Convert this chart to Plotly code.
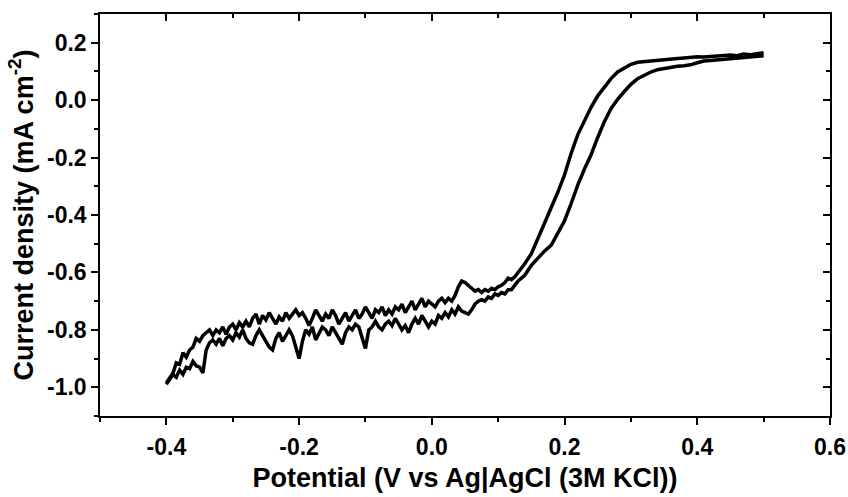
import plotly.graph_objects as go

# ---------------- data ----------------
fwd_E = [-0.400, -0.395, -0.390, -0.385, -0.380, -0.375, -0.370, -0.365, -0.360, -0.355,
         -0.350, -0.345, -0.340, -0.335, -0.330, -0.325, -0.320, -0.315, -0.310, -0.305,
         -0.300, -0.295, -0.290, -0.285, -0.280, -0.275, -0.270, -0.265, -0.260, -0.255,
         -0.250, -0.245, -0.240, -0.235, -0.230, -0.225, -0.220, -0.215, -0.210, -0.205,
         -0.200, -0.195, -0.190, -0.185, -0.180, -0.175, -0.170, -0.165, -0.160, -0.155,
         -0.150, -0.145, -0.140, -0.135, -0.130, -0.125, -0.120, -0.115, -0.110, -0.105,
         -0.100, -0.095, -0.090, -0.085, -0.080, -0.075, -0.070, -0.065, -0.060, -0.055,
         -0.050, -0.045, -0.040, -0.035, -0.030, -0.025, -0.020, -0.015, -0.010, -0.005,
         0.000, 0.005, 0.010, 0.015, 0.020, 0.025, 0.030, 0.035, 0.040, 0.045,
         0.050, 0.055, 0.060, 0.065, 0.070, 0.075, 0.080, 0.085, 0.090, 0.095,
         0.100, 0.105, 0.110, 0.115, 0.120, 0.125, 0.130, 0.140, 0.150, 0.160,
         0.170, 0.180, 0.190, 0.200, 0.210, 0.220, 0.230, 0.240, 0.250, 0.260,
         0.270, 0.280, 0.290, 0.300, 0.310, 0.320, 0.330, 0.340, 0.350, 0.360,
         0.370, 0.380, 0.390, 0.400, 0.410, 0.420, 0.430, 0.440, 0.450, 0.460,
         0.470, 0.480, 0.490, 0.500]
fwd_j = [-0.990, -0.970, -0.955, -0.965, -0.940, -0.955, -0.930, -0.935, -0.910, -0.925,
         -0.930, -0.950, -0.870, -0.845, -0.835, -0.850, -0.830, -0.855, -0.830, -0.820,
         -0.835, -0.810, -0.825, -0.800, -0.830, -0.845, -0.850, -0.820, -0.800, -0.820,
         -0.840, -0.860, -0.870, -0.830, -0.810, -0.840, -0.820, -0.800, -0.820, -0.860,
         -0.900, -0.840, -0.800, -0.815, -0.790, -0.835, -0.810, -0.790, -0.800, -0.820,
         -0.790, -0.810, -0.830, -0.850, -0.810, -0.790, -0.800, -0.780, -0.790, -0.830,
         -0.865, -0.800, -0.790, -0.770, -0.790, -0.800, -0.780, -0.770, -0.785, -0.760,
         -0.780, -0.800, -0.785, -0.810, -0.780, -0.760, -0.780, -0.750, -0.770, -0.790,
         -0.770, -0.780, -0.750, -0.760, -0.740, -0.755, -0.730, -0.745, -0.720, -0.735,
         -0.740, -0.745, -0.730, -0.710, -0.700, -0.695, -0.700, -0.685, -0.690, -0.675,
         -0.680, -0.670, -0.675, -0.660, -0.660, -0.645, -0.630, -0.610, -0.575, -0.550,
         -0.525, -0.505, -0.465, -0.420, -0.360, -0.295, -0.240, -0.190, -0.130, -0.075,
         -0.030, 0.003, 0.030, 0.055, 0.075, 0.088, 0.098, 0.106, 0.111, 0.115,
         0.118, 0.120, 0.123, 0.130, 0.136, 0.138, 0.140, 0.141, 0.143, 0.145,
         0.147, 0.149, 0.151, 0.155]

rev_E = [0.500, 0.490, 0.480, 0.470, 0.460, 0.450, 0.440, 0.430, 0.420, 0.410,
         0.400, 0.390, 0.380, 0.370, 0.360, 0.350, 0.340, 0.330, 0.320, 0.310,
         0.300, 0.290, 0.280, 0.270, 0.260, 0.250, 0.240, 0.230, 0.220, 0.210,
         0.200, 0.190, 0.180, 0.170, 0.160, 0.150, 0.140, 0.130, 0.125, 0.120,
         0.115, 0.110, 0.105, 0.100, 0.095, 0.090, 0.085, 0.080, 0.075, 0.070,
         0.065, 0.060, 0.055, 0.050, 0.045, 0.040, 0.035, 0.030, 0.025, 0.020,
         0.015, 0.010, 0.005, 0.000, -0.005, -0.010, -0.015, -0.020, -0.025, -0.030,
         -0.035, -0.040, -0.045, -0.050, -0.055, -0.060, -0.065, -0.070, -0.075, -0.080,
         -0.085, -0.090, -0.095, -0.100, -0.105, -0.110, -0.115, -0.120, -0.125, -0.130,
         -0.135, -0.140, -0.145, -0.150, -0.155, -0.160, -0.165, -0.170, -0.175, -0.180,
         -0.185, -0.190, -0.195, -0.200, -0.205, -0.210, -0.215, -0.220, -0.225, -0.230,
         -0.235, -0.240, -0.245, -0.250, -0.255, -0.260, -0.265, -0.270, -0.275, -0.280,
         -0.285, -0.290, -0.295, -0.300, -0.305, -0.310, -0.315, -0.320, -0.325, -0.330,
         -0.335, -0.340, -0.345, -0.350, -0.355, -0.360, -0.365, -0.370, -0.375, -0.380,
         -0.385, -0.390, -0.395, -0.400]
rev_j = [0.165, 0.160, 0.158, 0.161, 0.155, 0.157, 0.155, 0.152, 0.153, 0.150,
         0.151, 0.148, 0.147, 0.145, 0.143, 0.141, 0.139, 0.137, 0.135, 0.132,
         0.125, 0.113, 0.098, 0.075, 0.045, 0.015, -0.025, -0.070, -0.120, -0.185,
         -0.260, -0.320, -0.375, -0.430, -0.485, -0.535, -0.570, -0.600, -0.615, -0.625,
         -0.620, -0.635, -0.645, -0.650, -0.660, -0.655, -0.665, -0.660, -0.670, -0.660,
         -0.665, -0.655, -0.645, -0.635, -0.630, -0.650, -0.680, -0.700, -0.690, -0.705,
         -0.690, -0.700, -0.720, -0.710, -0.700, -0.720, -0.690, -0.710, -0.730, -0.700,
         -0.720, -0.740, -0.710, -0.730, -0.720, -0.745, -0.730, -0.750, -0.720, -0.740,
         -0.730, -0.760, -0.740, -0.720, -0.745, -0.760, -0.730, -0.750, -0.770, -0.740,
         -0.760, -0.780, -0.750, -0.730, -0.760, -0.745, -0.770, -0.750, -0.730, -0.760,
         -0.785, -0.760, -0.740, -0.750, -0.730, -0.745, -0.760, -0.740, -0.770, -0.755,
         -0.780, -0.760, -0.740, -0.765, -0.750, -0.780, -0.745, -0.760, -0.790, -0.770,
         -0.790, -0.775, -0.800, -0.780, -0.790, -0.815, -0.790, -0.810, -0.800, -0.820,
         -0.800, -0.810, -0.820, -0.840, -0.830, -0.860, -0.870, -0.895, -0.880, -0.920,
         -0.915, -0.950, -0.965, -0.985]

x_major = [-0.4, -0.2, 0.0, 0.2, 0.4, 0.6]
x_major_text = ["-0.4", "-0.2", "0.0", "0.2", "0.4", "0.6"]
x_minor = [-0.5, -0.3, -0.1, 0.1, 0.3, 0.5]
y_major = [-1.0, -0.8, -0.6, -0.4, -0.2, 0.0, 0.2]
y_major_text = ["-1.0", "-0.8", "-0.6", "-0.4", "-0.2", "0.0", "0.2"]
y_minor = [-1.1, -0.9, -0.7, -0.5, -0.3, -0.1, 0.1, 0.3]
x_range = [-0.5, 0.6]
y_range = [-1.1, 0.3]

x_title = "Potential (V vs Ag|AgCl (3M KCl))"
y_title = "Current density (mA cm<sup>-2</sup>)"

# ---------------- figure ----------------
FONT = "Liberation Sans, Arial, sans-serif"
line_style = dict(color="black", width=3.5)

def bold(s):
    return "<b>" + s + "</b>"

fig = go.Figure()
fig.add_trace(go.Scatter(x=fwd_E, y=fwd_j, mode="lines", line=line_style,
                         showlegend=False, hoverinfo="skip"))
fig.add_trace(go.Scatter(x=rev_E, y=rev_j, mode="lines", line=line_style,
                         showlegend=False, hoverinfo="skip", xaxis="x2", yaxis="y2"))

axis_common = dict(showgrid=False, zeroline=False, showline=True,
                   linecolor="black", linewidth=1.5, tickcolor="black",
                   tickwidth=1.5, automargin=False)

fig.update_layout(
    width=848, height=497,
    margin=dict(l=100, r=18, t=14, b=81),
    paper_bgcolor="white", plot_bgcolor="white",
    font=dict(family=FONT, color="black"),
    xaxis=dict(**axis_common, range=x_range, tickmode="array",
               tickvals=x_major, ticktext=[bold(t) for t in x_major_text],
               ticks="outside", ticklen=7, ticklabelstandoff=3,
               tickfont=dict(size=23, family=FONT, color="black"),
               minor=dict(tickmode="array", tickvals=x_minor, ticks="outside",
                          ticklen=4, tickcolor="black", tickwidth=1.5),
               title=dict(text=bold(x_title), font=dict(size=27, family=FONT, color="black"),
                          standoff=9)),
    yaxis=dict(**axis_common, range=y_range, tickmode="array",
               tickvals=y_major, ticktext=[bold(t) for t in y_major_text],
               ticks="outside", ticklen=7,
               tickfont=dict(size=23, family=FONT, color="black"),
               minor=dict(tickmode="array", tickvals=y_minor, ticks="outside",
                          ticklen=4, tickcolor="black", tickwidth=1.5),
               title=dict(text=bold(y_title), font=dict(size=27, family=FONT, color="black"),
                          standoff=6)),
    xaxis2=dict(**axis_common, range=x_range, overlaying="x", side="top",
                tickmode="array", tickvals=x_major, ticks="inside", ticklen=7,
                showticklabels=False,
                minor=dict(tickmode="array", tickvals=x_minor, ticks="inside",
                           ticklen=4, tickcolor="black", tickwidth=1.5)),
    yaxis2=dict(**axis_common, range=y_range, overlaying="y", side="right",
                tickmode="array", tickvals=y_major, ticks="inside", ticklen=7,
                showticklabels=False,
                minor=dict(tickmode="array", tickvals=y_minor, ticks="inside",
                           ticklen=4, tickcolor="black", tickwidth=1.5)),
)

fig.write_html("out.html")
